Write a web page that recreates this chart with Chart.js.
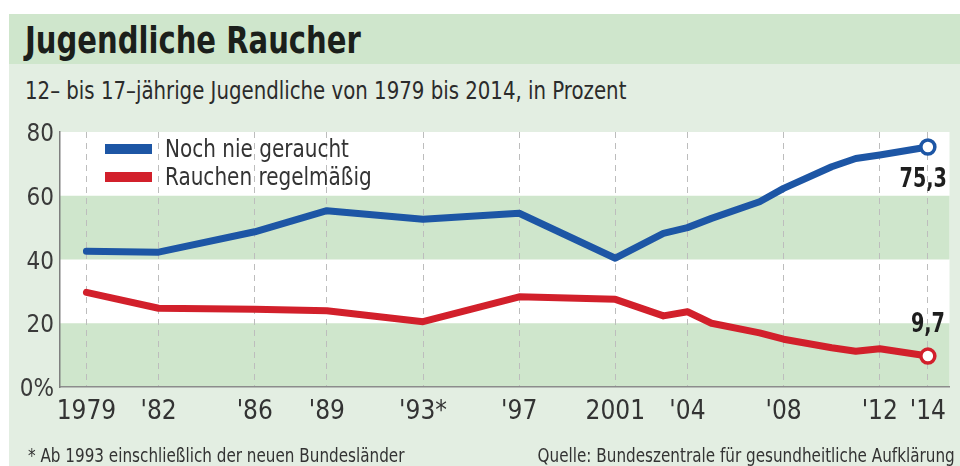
<!DOCTYPE html>
<html lang="de">
<head>
<meta charset="utf-8">
<script src="https://cdn.jsdelivr.net/npm/chart.js@4.4.1/dist/chart.umd.min.js"></script>
<style>
  html, body { margin:0; padding:0; background:#ffffff; }
  body { width:960px; height:466px; position:relative; overflow:hidden;
         font-family:'DejaVu Sans Condensed','DejaVu Sans',sans-serif; }
  #bg { position:absolute; left:9px; top:14px; width:951px; height:452px; background:#e3eee2; }
  #band { position:absolute; left:9px; top:14px; width:951px; height:50px; background:#cfe6cc; }
  .t { position:absolute; white-space:nowrap; }
  #title { left:25px; top:18px; font-size:38px; font-weight:bold; color:#1b1f1b; line-height:44px;
           transform:scaleX(0.85); transform-origin:left center; }
  #subtitle { left:25px; top:77px; font-size:24px; color:#2b2b2b; line-height:28px;
              transform:scaleX(0.915); transform-origin:left center; }
  #note { left:28px; top:444px; font-size:19px; color:#333; line-height:22px;
          transform:scaleX(0.89); transform-origin:left center; }
  #source { right:5px; top:444px; font-size:19px; color:#333; line-height:22px;
            transform:scaleX(0.89); transform-origin:right center; }
  canvas { position:absolute; left:0; top:0; }
</style>
</head>
<body>
<div id="bg"></div>
<div id="band"></div>
<div id="title" class="t">Jugendliche Raucher</div>
<div id="subtitle" class="t">12– bis 17–jährige Jugendliche von 1979 bis 2014, in Prozent</div>
<canvas id="c" width="960" height="466"></canvas>
<div id="note" class="t">* Ab 1993 einschließlich der neuen Bundesländer</div>
<div id="source" class="t">Quelle: Bundeszentrale für gesundheitliche Aufklärung</div>
<script>
// ---- data ----
const years        = [1979, 1982, 1986, 1989, 1993, 1997, 2001, 2003, 2004, 2005, 2007, 2008, 2010, 2011, 2012, 2014];
const neverSmoked  = [42.6, 42.3, 48.7, 55.3, 52.6, 54.5, 40.4, 48.2, 50.0, 52.9, 58.1, 62.3, 69.1, 71.7, 72.8, 75.3];
const regularSmoke = [29.7, 24.7, 24.4, 23.9, 20.5, 28.3, 27.5, 22.3, 23.6, 20.0, 17.0, 15.0, 12.3, 11.2, 12.0, 9.7];
const seriesNames  = ['Noch nie geraucht', 'Rauchen regelmäßig'];
const tickYears    = [1979, 1982, 1986, 1989, 1993, 1997, 2001, 2004, 2008, 2012, 2014];
const tickLabels   = ['1979', "'82", "'86", "'89", "'93*", "'97", '2001', "'04", "'08", "'12", "'14"];
const yTicks       = [0, 20, 40, 60, 80];
const yTickLabels  = ['0%', '20', '40', '60', '80'];
const endLabels    = ['75,3', '9,7'];
const bands        = [[0, 20], [40, 60]];

const FONT = "'DejaVu Sans Condensed','DejaVu Sans',sans-serif";
const BLUE = '#1d56a5';
const RED  = '#d2202b';
const colors = [BLUE, RED];

const last = years.length - 1;
function mk(values, i) {
  return {
    label: seriesNames[i],
    data: years.map((y, k) => ({ x: y, y: values[k] })),
    borderColor: colors[i],
    borderWidth: 7,
    borderJoinStyle: 'round',
    borderCapStyle: 'round',
    tension: 0,
    pointRadius: ctx => ctx.dataIndex === last ? 7 : 0,
    pointHoverRadius: 0,
    pointBackgroundColor: '#ffffff',
    pointBorderColor: colors[i],
    pointBorderWidth: 3.5
  };
}

function narrowText(ctx, s, x, y, sx) {
  ctx.save();
  ctx.translate(x, y);
  ctx.scale(sx, 1);
  ctx.fillText(s, 0, 0);
  ctx.restore();
}

const decor = {
  id: 'decor',
  beforeDraw(chart) {
    const { ctx, chartArea: a, scales: { y } } = chart;
    ctx.save();
    ctx.fillStyle = '#ffffff';
    ctx.fillRect(a.left, a.top, a.right - a.left, a.bottom - a.top);
    ctx.fillStyle = '#cfe6cc';
    bands.forEach(([lo, hi]) => {
      const t = y.getPixelForValue(hi), b = y.getPixelForValue(lo);
      ctx.fillRect(a.left, t, a.right - a.left, b - t);
    });
    ctx.restore();
  },
  afterDraw(chart) {
    const { ctx } = chart;
    ctx.save();
    // legend
    ctx.font = '25px ' + FONT;
    ctx.textBaseline = 'middle';
    ctx.textAlign = 'left';
    const legY = [149, 177];
    seriesNames.forEach((n, i) => {
      ctx.fillStyle = colors[i];
      ctx.fillRect(105, legY[i] - 5, 47, 10);
      ctx.fillStyle = '#333333';
      narrowText(ctx, n, 165, legY[i] + 1, 0.89);
    });
    // end labels
    ctx.font = 'bold 26px ' + FONT;
    ctx.fillStyle = '#1e1e1e';
    ctx.textAlign = 'right';
    chart.data.datasets.forEach((ds, i) => {
      const p = chart.getDatasetMeta(i).data[last];
      if (i === 0) {
        ctx.textBaseline = 'top';
        narrowText(ctx, endLabels[i], p.x + 19, p.y + 20, 0.82);
      } else {
        ctx.textBaseline = 'bottom';
        narrowText(ctx, endLabels[i], p.x + 17, p.y - 18, 0.82);
      }
    });
    ctx.restore();
  }
};

new Chart(document.getElementById('c'), {
  type: 'line',
  data: { datasets: [mk(neverSmoked, 0), mk(regularSmoke, 1)] },
  options: {
    responsive: false,
    animation: false,
    devicePixelRatio: 1,
    layout: { padding: { top: 132, right: 5, left: 0, bottom: 0 } },
    plugins: { legend: { display: false }, tooltip: { enabled: false } },
    scales: {
      x: {
        type: 'linear',
        min: 1977.9,
        max: 2014.9,
        afterBuildTicks: s => { s.ticks = tickYears.map(v => ({ value: v })); },
        afterFit: s => { s.height = 79; },
        ticks: {
          callback: v => tickLabels[tickYears.indexOf(v)],
          font: { family: FONT, size: 26 },
          color: '#333333',
          padding: 10,
          maxRotation: 0,
          autoSkip: false
        },
        grid: { drawTicks: false, color: '#bdbdbd', lineWidth: 1 },
        border: { display: true, color: '#8c8c8c', width: 1.5, dash: [6, 5] }
      },
      y: {
        min: 0,
        max: 80,
        afterBuildTicks: s => { s.ticks = yTicks.map(v => ({ value: v })); },
        afterFit: s => { s.width = 60; },
        ticks: {
          callback: v => yTickLabels[yTicks.indexOf(v)],
          font: { family: FONT, size: 24 },
          color: '#3a3a3a',
          padding: 6,
          labelOffset: 3
        },
        grid: { display: false, drawTicks: false },
        border: { display: true, color: '#7f7f7f', width: 1.5 }
      }
    }
  },
  plugins: [decor]
});
</script>
</body>
</html>
